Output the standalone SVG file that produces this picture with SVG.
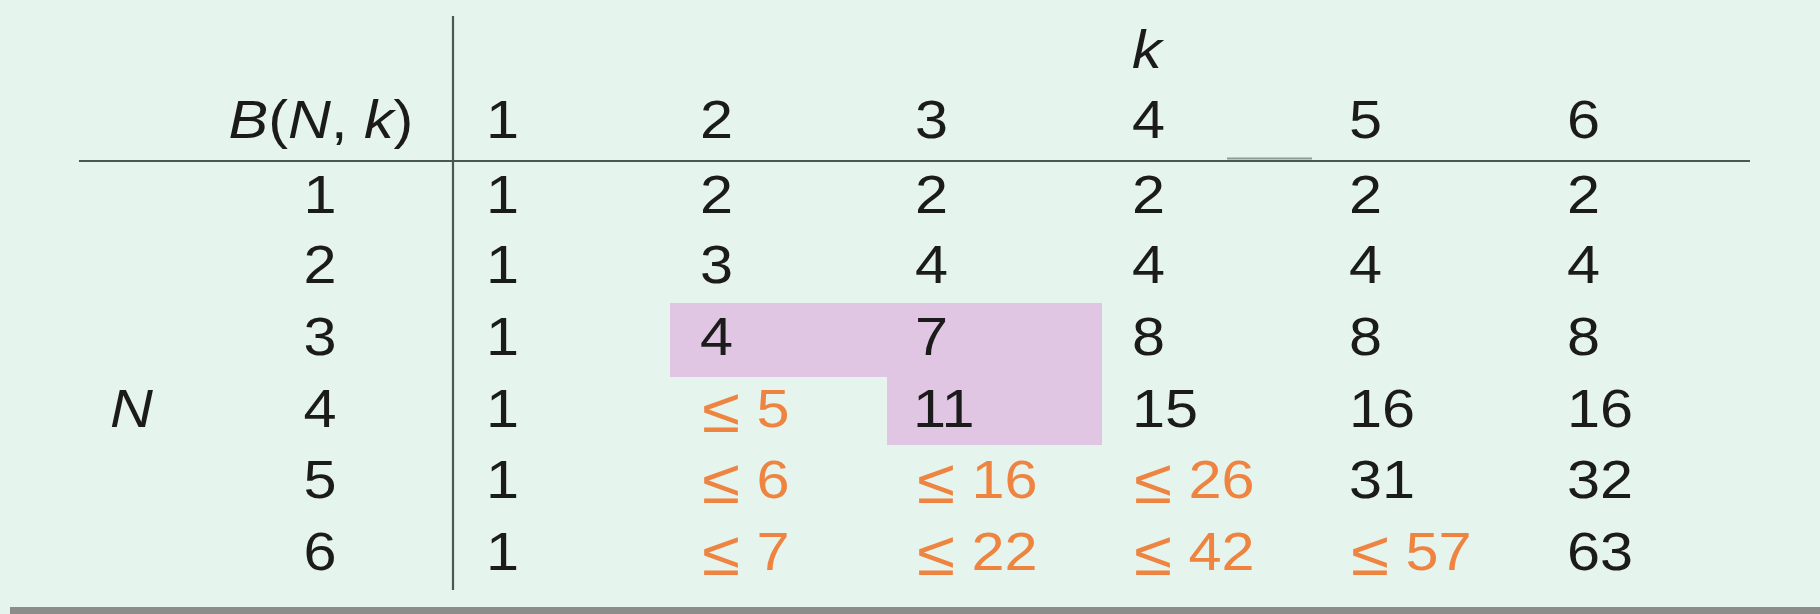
<svg xmlns="http://www.w3.org/2000/svg" width="1820" height="614" viewBox="0 0 1820 614">
  <style>
    .t { font-family: "Liberation Sans", Arial, Helvetica, sans-serif; font-size: 54px; fill: #1b1b1b; }
    .i { font-style: italic; }
    .o { fill: #ee8440; }
    .le { font-size: 63px; }
    .c { text-anchor: middle; }
    .rule { stroke: #4a5853; stroke-width: 2.2; fill: none; }
  </style>
  <rect x="0" y="0" width="1820" height="614" fill="#e5f4ed"/>
  <rect x="10" y="607" width="1810" height="7" fill="#8b8d8b"/>

  <g id="highlight">
    <polygon points="670,303 1102,303 1102,445 887,445 887,377 670,377" fill="#e1c6e3"/>
  </g>

  <g id="rules">
    <line class="rule" x1="79" y1="161" x2="1750" y2="161"/>
    <line class="rule" x1="453" y1="16" x2="453" y2="590"/>
    <line x1="1227" y1="158.5" x2="1312" y2="158.5" stroke="#8f9b96" stroke-width="2"/>
  </g>

  <g id="header">
    <text class="t i" transform="translate(1132,68) scale(1.1,1)">k</text>
    <text class="t c" transform="translate(321,138) scale(1.1,1)"><tspan class="i">B</tspan>(<tspan class="i">N</tspan>, <tspan class="i">k</tspan>)</text>
    <text class="t" transform="translate(486,138) scale(1.1,1)">1</text>
    <text class="t" transform="translate(700,138) scale(1.1,1)">2</text>
    <text class="t" transform="translate(915,138) scale(1.1,1)">3</text>
    <text class="t" transform="translate(1132,138) scale(1.1,1)">4</text>
    <text class="t" transform="translate(1349,138) scale(1.1,1)">5</text>
    <text class="t" transform="translate(1567,138) scale(1.1,1)">6</text>
  </g>

  <g id="label-N">
    <text class="t i" transform="translate(110,427) scale(1.1,1)">N</text>
  </g>

  <g id="row1">
    <text class="t c" transform="translate(320,213) scale(1.1,1)">1</text>
    <text class="t" transform="translate(486,213) scale(1.1,1)">1</text>
    <text class="t" transform="translate(700,213) scale(1.1,1)">2</text>
    <text class="t" transform="translate(915,213) scale(1.1,1)">2</text>
    <text class="t" transform="translate(1132,213) scale(1.1,1)">2</text>
    <text class="t" transform="translate(1349,213) scale(1.1,1)">2</text>
    <text class="t" transform="translate(1567,213) scale(1.1,1)">2</text>
  </g>

  <g id="row2">
    <text class="t c" transform="translate(320,283) scale(1.1,1)">2</text>
    <text class="t" transform="translate(486,283) scale(1.1,1)">1</text>
    <text class="t" transform="translate(700,283) scale(1.1,1)">3</text>
    <text class="t" transform="translate(915,283) scale(1.1,1)">4</text>
    <text class="t" transform="translate(1132,283) scale(1.1,1)">4</text>
    <text class="t" transform="translate(1349,283) scale(1.1,1)">4</text>
    <text class="t" transform="translate(1567,283) scale(1.1,1)">4</text>
  </g>

  <g id="row3">
    <text class="t c" transform="translate(320,355) scale(1.1,1)">3</text>
    <text class="t" transform="translate(486,355) scale(1.1,1)">1</text>
    <text class="t" transform="translate(700,355) scale(1.1,1)">4</text>
    <text class="t" transform="translate(915,355) scale(1.1,1)">7</text>
    <text class="t" transform="translate(1132,355) scale(1.1,1)">8</text>
    <text class="t" transform="translate(1349,355) scale(1.1,1)">8</text>
    <text class="t" transform="translate(1567,355) scale(1.1,1)">8</text>
  </g>

  <g id="row4">
    <text class="t c" transform="translate(320,427) scale(1.1,1)">4</text>
    <text class="t" transform="translate(486,427) scale(1.1,1)">1</text>
    <text class="t o" transform="translate(702,427) scale(1.1,1)"><tspan class="le" dy="5">≤</tspan><tspan dy="-5"> 5</tspan></text>
    <text class="t" transform="translate(913,427) scale(1.1,1)">11</text>
    <text class="t" transform="translate(1132,427) scale(1.1,1)">15</text>
    <text class="t" transform="translate(1349,427) scale(1.1,1)">16</text>
    <text class="t" transform="translate(1567,427) scale(1.1,1)">16</text>
  </g>

  <g id="row5">
    <text class="t c" transform="translate(320,498) scale(1.1,1)">5</text>
    <text class="t" transform="translate(486,498) scale(1.1,1)">1</text>
    <text class="t o" transform="translate(702,498) scale(1.1,1)"><tspan class="le" dy="5">≤</tspan><tspan dy="-5"> 6</tspan></text>
    <text class="t o" transform="translate(917,498) scale(1.1,1)"><tspan class="le" dy="5">≤</tspan><tspan dy="-5"> 16</tspan></text>
    <text class="t o" transform="translate(1134,498) scale(1.1,1)"><tspan class="le" dy="5">≤</tspan><tspan dy="-5"> 26</tspan></text>
    <text class="t" transform="translate(1349,498) scale(1.1,1)">31</text>
    <text class="t" transform="translate(1567,498) scale(1.1,1)">32</text>
  </g>

  <g id="row6">
    <text class="t c" transform="translate(320,570) scale(1.1,1)">6</text>
    <text class="t" transform="translate(486,570) scale(1.1,1)">1</text>
    <text class="t o" transform="translate(702,570) scale(1.1,1)"><tspan class="le" dy="5">≤</tspan><tspan dy="-5"> 7</tspan></text>
    <text class="t o" transform="translate(917,570) scale(1.1,1)"><tspan class="le" dy="5">≤</tspan><tspan dy="-5"> 22</tspan></text>
    <text class="t o" transform="translate(1134,570) scale(1.1,1)"><tspan class="le" dy="5">≤</tspan><tspan dy="-5"> 42</tspan></text>
    <text class="t o" transform="translate(1351,570) scale(1.1,1)"><tspan class="le" dy="5">≤</tspan><tspan dy="-5"> 57</tspan></text>
    <text class="t" transform="translate(1567,570) scale(1.1,1)">63</text>
  </g>
</svg>
